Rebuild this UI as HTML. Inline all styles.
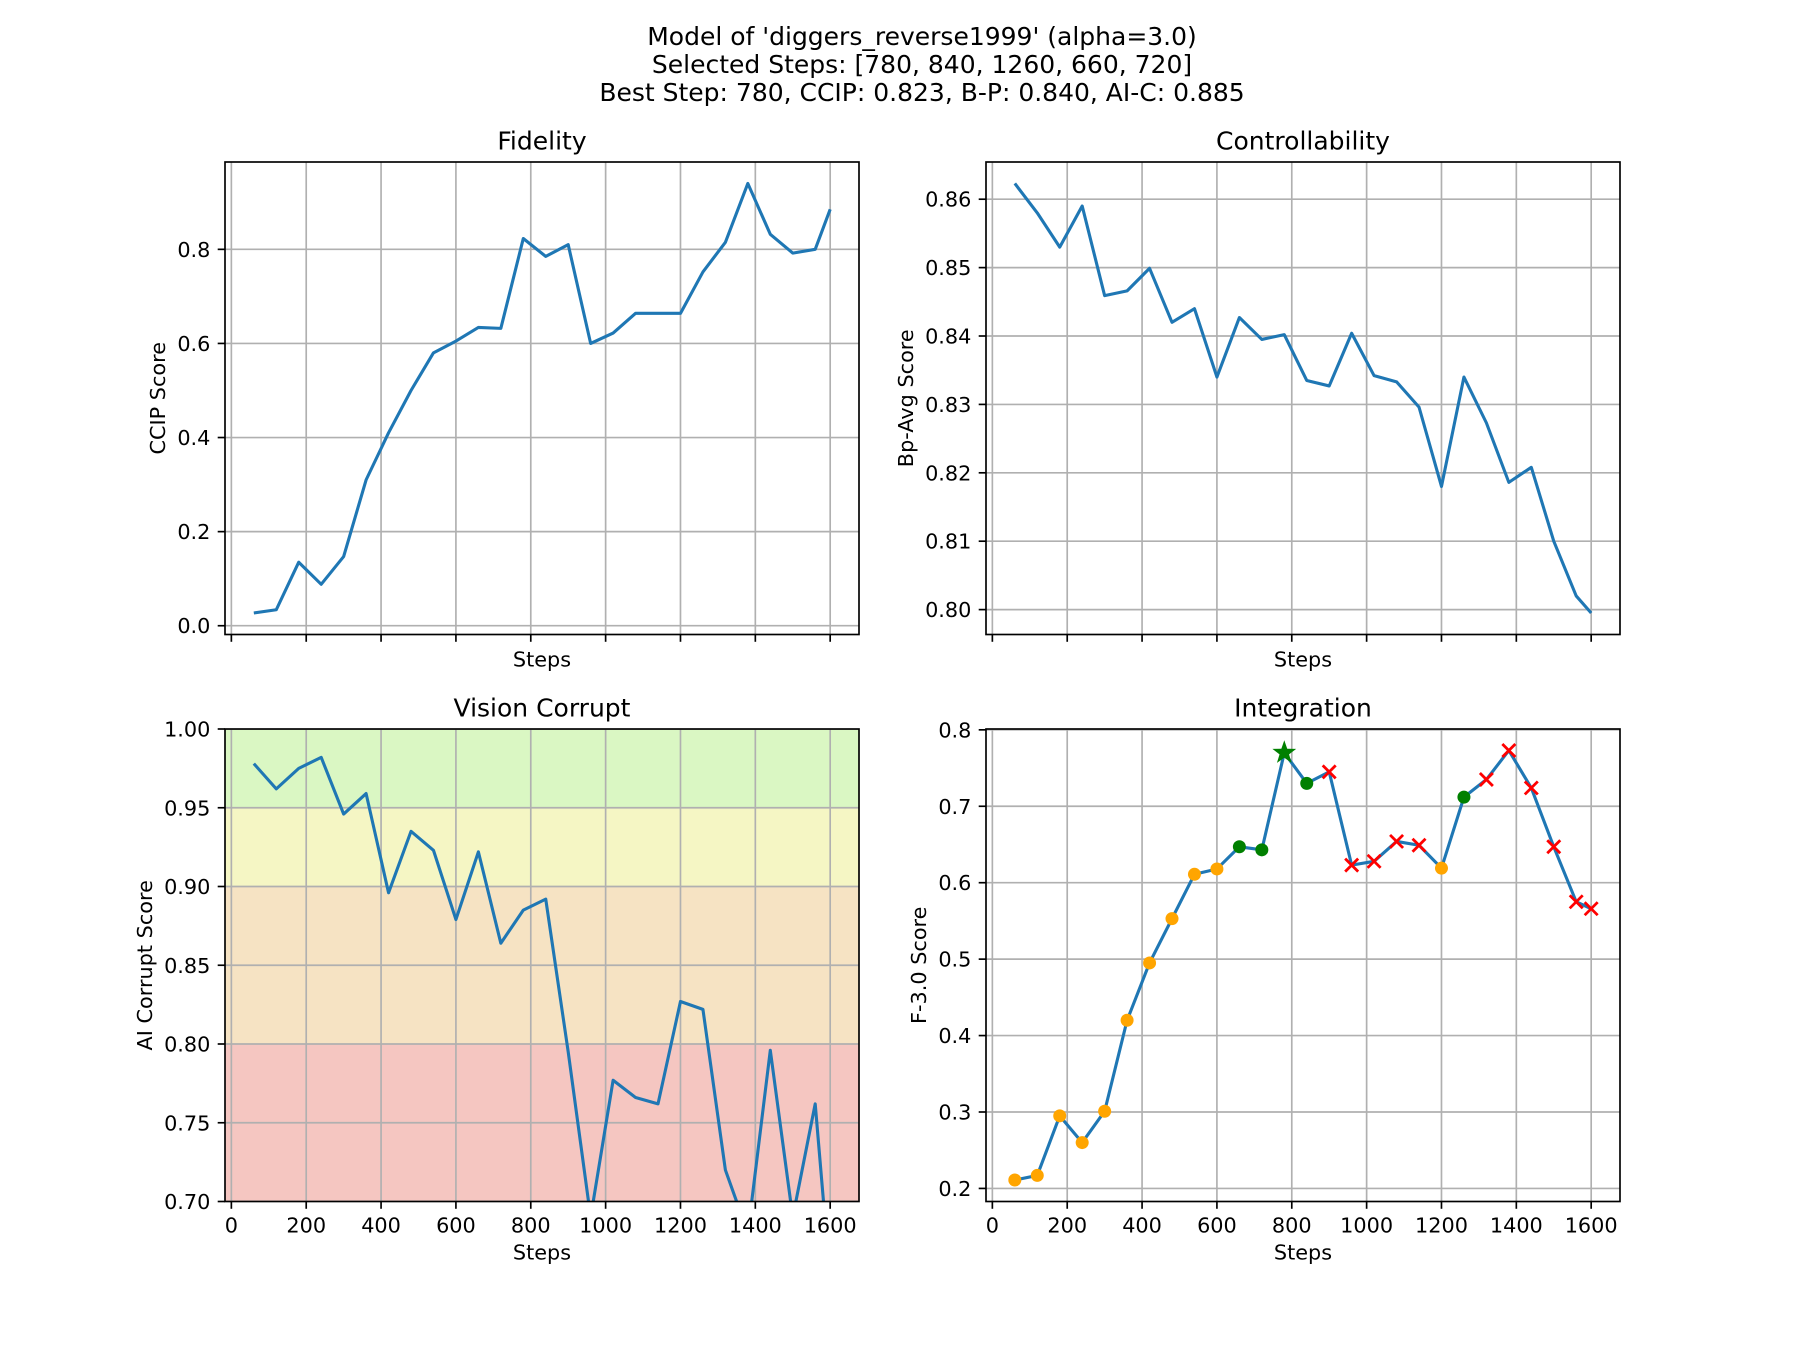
<!DOCTYPE html>
<html><head><meta charset="utf-8"><style>
html,body{margin:0;padding:0;background:#fff;}
svg{display:block;font-family:"DejaVu Sans","Liberation Sans",sans-serif;}
</style></head><body>
<svg id="fig" width="1800" height="1350" viewBox="0 0 1800 1350" xmlns="http://www.w3.org/2000/svg">
<rect width="1800" height="1350" fill="#fff"/>
<g font-size="25" text-anchor="middle" fill="#000">
<text x="922" y="45">Model of 'diggers_reverse1999' (alpha=3.0)</text>
<text x="922" y="73">Selected Steps: [780, 840, 1260, 660, 720]</text>
<text x="922" y="101">Best Step: 780, CCIP: 0.823, B-P: 0.840, AI-C: 0.885</text>
</g>
</svg>
<script>
const steps = [60,120,180,240,300,360,420,480,540,600,660,720,780,840,900,960,1020,1080,1140,1200,1260,1320,1380,1440,1500,1560,1600];
const ccip = [0.027,0.034,0.135,0.088,0.147,0.31,0.41,0.50,0.58,0.605,0.634,0.632,0.823,0.785,0.81,0.60,0.622,0.664,0.664,0.664,0.752,0.815,0.94,0.832,0.792,0.80,0.885];
const bp = [0.8623,0.858,0.853,0.859,0.8459,0.8466,0.8499,0.842,0.844,0.834,0.8427,0.8395,0.8402,0.8335,0.8327,0.8404,0.8342,0.8333,0.8296,0.818,0.834,0.8273,0.8186,0.8208,0.810,0.802,0.7995];
const aic = [0.978,0.962,0.975,0.982,0.946,0.959,0.896,0.935,0.923,0.879,0.922,0.864,0.885,0.892,0.795,0.69,0.777,0.766,0.762,0.827,0.822,0.72,0.68,0.796,0.69,0.762,0.65];
const fscore = [0.211,0.217,0.295,0.26,0.301,0.42,0.495,0.553,0.611,0.618,0.647,0.643,0.77,0.73,0.745,0.623,0.628,0.654,0.649,0.619,0.712,0.735,0.773,0.724,0.647,0.575,0.566];
const markerType = ['o','o','o','o','o','o','o','o','o','o','g','g','s','g','x','x','x','x','x','o','g','x','x','x','x','x','x'];
const xTicks = [0,200,400,600,800,1000,1200,1400,1600];
const ccipTicks = [0.0,0.2,0.4,0.6,0.8];
const bpTicks = [0.80,0.81,0.82,0.83,0.84,0.85,0.86];
const aicTicks = [0.70,0.75,0.80,0.85,0.90,0.95,1.00];
const fTicks = [0.2,0.3,0.4,0.5,0.6,0.7,0.8];
const bandEdges = [0.7,0.8,0.9,0.95,1.0];
const bandColors = ['#f5c6c1','#f6e3c3','#f5f6c4','#daf7c3'];

const NS='http://www.w3.org/2000/svg';
const svg=document.getElementById('fig');
function el(tag,attrs,parent){const e=document.createElementNS(NS,tag);for(const k in attrs)e.setAttribute(k,attrs[k]);(parent||svg).appendChild(e);return e;}
function ext(a){let mn=Math.min(...a),mx=Math.max(...a),m=(mx-mn)*0.05;return [mn-m,mx+m];}

function panel(o){
  const g=el('g',{});
  
  
  const [x0,y0,w,h]=o.box;
  const xr=ext(steps), yr=o.ylim||ext(o.vals);
  const sx=v=>x0+(v-xr[0])/(xr[1]-xr[0])*w;
  const sy=v=>y0+h-(v-yr[0])/(yr[1]-yr[0])*h;
  const clip='clip-'+o.name;
  const cp=el('clipPath',{id:clip},g);el('rect',{x:x0,y:y0,width:w,height:h},cp);
  if(o.bands){
    for(let i=0;i<bandColors.length;i++){
      const r=el('rect',{x:x0,y:sy(bandEdges[i+1]),width:w,height:sy(bandEdges[i])-sy(bandEdges[i+1]),fill:bandColors[i]},g);
      
      
    }
  }
  const grid=el('g',{stroke:'#b0b0b0','stroke-width':1.67,'clip-path':'url(#'+clip+')'},g);
  
  
  xTicks.forEach(t=>el('line',{x1:sx(t),x2:sx(t),y1:y0,y2:y0+h},grid));
  o.yticks.forEach(t=>el('line',{x1:x0,x2:x0+w,y1:sy(t),y2:sy(t)},grid));
  const pts=steps.map((s,i)=>sx(s).toFixed(2)+','+sy(o.vals[i]).toFixed(2)).join(' ');
  const ln=el('polyline',{points:pts,fill:'none',stroke:'#1f77b4','stroke-width':3.1,'stroke-linejoin':'round','clip-path':'url(#'+clip+')'},g);
  
  
  if(o.markers){
    steps.forEach((s,i)=>{
      const cx=sx(s),cy=sy(o.vals[i]),t=markerType[i];let m;
      if(t==='o'||t==='g'){m=el('circle',{cx:cx,cy:cy,r:6.5,fill:t==='o'?'#ffa500':'#008000'},g);}
      else if(t==='x'){m=el('path',{d:`M${cx-6.5},${cy-6.5}L${cx+6.5},${cy+6.5}M${cx-6.5},${cy+6.5}L${cx+6.5},${cy-6.5}`,stroke:'#ff0000','stroke-width':2.8,fill:'none'},g);}
      else {let p=[];for(let k=0;k<10;k++){const r=k%2?5:12.5,a=-Math.PI/2+k*Math.PI/5;p.push((cx+r*Math.cos(a)).toFixed(2)+','+(cy+r*Math.sin(a)).toFixed(2));}
        m=el('polygon',{points:p.join(' '),fill:'#008000'},g);}
      
      
    });
  }
  const fr=el('rect',{x:x0,y:y0,width:w,height:h,fill:'none',stroke:'#000','stroke-width':1.67},g);
  
  
  const tk=el('g',{stroke:'#000','stroke-width':1.67},g);
  xTicks.forEach(t=>el('line',{x1:sx(t),x2:sx(t),y1:y0+h,y2:y0+h+7.3},tk));
  o.yticks.forEach(t=>el('line',{x1:x0,x2:x0-7.3,y1:sy(t),y2:sy(t)},tk));
  const tl=el('g',{'font-size':20.8,fill:'#000'},g);
  
  
  if(o.xlabels) xTicks.forEach(t=>{const e=el('text',{x:sx(t),y:y0+h+31,'text-anchor':'middle'},tl);e.textContent=String(t);});
  o.yticks.forEach(t=>{const e=el('text',{x:x0-14.6,y:sy(t)+7.5,'text-anchor':'end'},tl);e.textContent=t.toFixed(o.dec);});
  const xl=el('text',{x:x0+w/2,y:y0+h+(o.xlabels?58:32),'text-anchor':'middle','font-size':20.8},g);
  xl.textContent='Steps';
  
  
  const yx=x0-o.ylOff;
  const yl=el('text',{x:yx,y:y0+h/2,'text-anchor':'middle','font-size':20.8,transform:`rotate(-90 ${yx} ${y0+h/2})`},g);
  yl.textContent=o.ylabel;
  
  
  const ti=el('text',{x:x0+w/2,y:y0-12.5,'text-anchor':'middle','font-size':25},g);
  ti.textContent=o.title;
  
  
}
panel({name:'fidelity-panel',box:[225,162,634,472.5],vals:ccip,yticks:ccipTicks,dec:1,ylabel:'CCIP Score',title:'Fidelity',xlabels:false,ylOff:60});
panel({name:'controllability-panel',box:[986,162,634,472.5],vals:bp,yticks:bpTicks,dec:2,ylabel:'Bp-Avg Score',title:'Controllability',xlabels:false,ylOff:73});
panel({name:'vision-corrupt-panel',box:[225,729,634,472.5],vals:aic,ylim:[0.7,1.0],yticks:aicTicks,dec:2,ylabel:'AI Corrupt Score',title:'Vision Corrupt',xlabels:true,bands:true,ylOff:73});
panel({name:'integration-panel',box:[986,729,634,472.5],vals:fscore,yticks:fTicks,dec:1,ylabel:'F-3.0 Score',title:'Integration',xlabels:true,markers:true,ylOff:60});
</script>
</body></html>
